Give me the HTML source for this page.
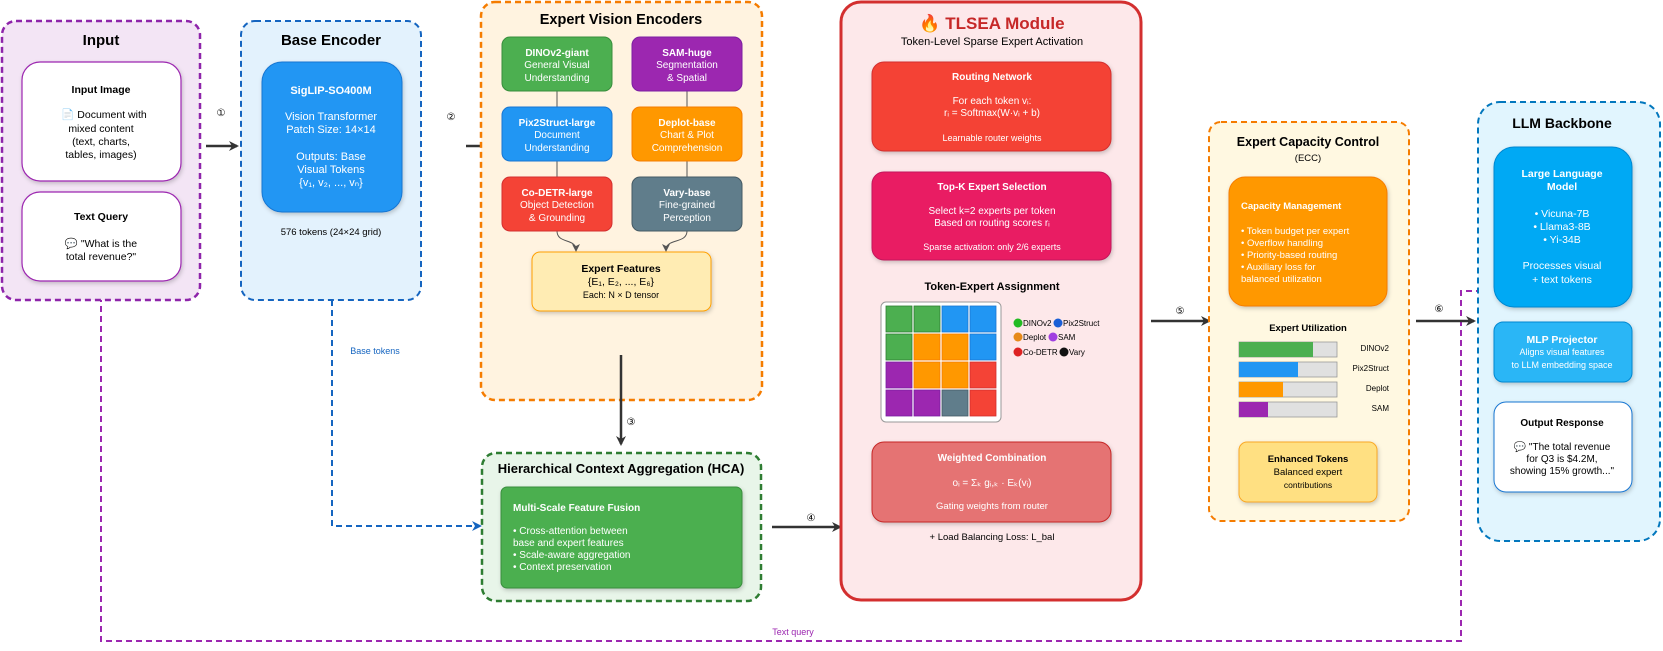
<!DOCTYPE html>
<html><head><meta charset="utf-8"><style>
html,body{margin:0;padding:0;background:#fff;}
svg{display:block;font-family:"Liberation Sans",Arial,sans-serif;}
.b{font-weight:bold;}
</style></head><body>
<svg width="1663" height="651" viewBox="0 0 1663 651" xmlns="http://www.w3.org/2000/svg">
<defs>
<marker id="ah" markerWidth="10" markerHeight="10" refX="8" refY="5" orient="auto" markerUnits="userSpaceOnUse"><path d="M0,0 L10,5 L0,10 L3,5 Z" fill="#333"/></marker>
<marker id="ahs" markerWidth="8" markerHeight="8" refX="6" refY="4" orient="auto" markerUnits="userSpaceOnUse"><path d="M0,0 L8,4 L0,8 L2,4 Z" fill="#555"/></marker>
<marker id="ahb" markerWidth="10" markerHeight="10" refX="8" refY="5" orient="auto" markerUnits="userSpaceOnUse"><path d="M0,0 L10,5 L0,10 L3,5 Z" fill="#1565c0"/></marker>
<marker id="ahp" markerWidth="10" markerHeight="10" refX="8" refY="5" orient="auto" markerUnits="userSpaceOnUse"><path d="M0,0 L10,5 L0,10 L3,5 Z" fill="#9c27b0"/></marker>
<filter id="sh" x="-10%" y="-10%" width="130%" height="130%"><feDropShadow dx="1" dy="2" stdDeviation="2" flood-opacity="0.2"/></filter>
</defs>

<!-- text query dashed path -->
<path d="M101,286 L101,641 L1461,641 L1461,291 L1491,291" fill="none" stroke="#9c27b0" stroke-width="2" stroke-dasharray="6 4" marker-end="url(#ahp)"/>
<text x="793" y="635" font-size="9" fill="#9c27b0" text-anchor="middle">Text query</text>

<!-- base tokens dashed -->
<path d="M332,300 L332,526 L480,526" fill="none" stroke="#1565c0" stroke-width="2" stroke-dasharray="6 4" marker-end="url(#ahb)"/>
<text x="375" y="354" font-size="9" fill="#1565c0" text-anchor="middle">Base tokens</text>

<!-- Input -->
<rect x="2" y="21" width="198" height="279" rx="14" fill="#f3e5f5" stroke="#8e24aa" stroke-width="2.5" stroke-dasharray="6 4"/>
<text x="101" y="45" font-size="15" class="b" text-anchor="middle">Input</text>
<rect x="22" y="62" width="159" height="119" rx="18" fill="#fff" stroke="#9c27b0" stroke-width="1.2" filter="url(#sh)"/>
<text x="101" y="93" font-size="10.5" class="b" text-anchor="middle">Input Image</text>
<g font-size="10.5" text-anchor="middle"><text x="104" y="118">📄 Document with</text><text x="101" y="132">mixed content</text><text x="101" y="145">(text, charts,</text><text x="101" y="158">tables, images)</text></g>
<rect x="22" y="192" width="159" height="89" rx="18" fill="#fff" stroke="#9c27b0" stroke-width="1.2" filter="url(#sh)"/>
<text x="101" y="220" font-size="10.5" class="b" text-anchor="middle">Text Query</text>
<g font-size="10.5" text-anchor="middle"><text x="101" y="247">💬 "What is the</text><text x="101" y="260">total revenue?"</text></g>

<!-- arrow 1 -->
<line x1="206" y1="146" x2="237" y2="146" stroke="#333" stroke-width="2.5" marker-end="url(#ah)"/>
<text x="221" y="116" font-size="10" text-anchor="middle">①</text>

<!-- Base Encoder -->
<rect x="241" y="21" width="180" height="279" rx="14" fill="#e3f2fd" stroke="#1565c0" stroke-width="2" stroke-dasharray="6 4"/>
<text x="331" y="45" font-size="15" class="b" text-anchor="middle">Base Encoder</text>
<rect x="262" y="62" width="140" height="150" rx="20" fill="#2196f3" stroke="#1976d2" stroke-width="1" filter="url(#sh)"/>
<g fill="#fff" font-size="11" text-anchor="middle"><text x="331" y="94" class="b">SigLIP-SO400M</text><text x="331" y="120">Vision Transformer</text><text x="331" y="133">Patch Size: 14×14</text><text x="331" y="160">Outputs: Base</text><text x="331" y="173">Visual Tokens</text><text x="331" y="186">{v₁, v₂, ..., vₙ}</text></g>
<text x="331" y="235" font-size="9.5" text-anchor="middle">576 tokens (24×24 grid)</text>

<!-- arrow 2 -->
<line x1="466" y1="146" x2="496" y2="146" stroke="#333" stroke-width="2.5" marker-end="url(#ah)"/>
<text x="451" y="120" font-size="10" text-anchor="middle">②</text>

<!-- Expert Vision Encoders -->
<rect x="481" y="2" width="281" height="398" rx="14" fill="#fff3e0" stroke="#f57c00" stroke-width="2.5" stroke-dasharray="6 4"/>
<text x="621" y="24" font-size="14.5" class="b" text-anchor="middle">Expert Vision Encoders</text>
<line x1="557" y1="91" x2="557" y2="107" stroke="#555"/><line x1="687" y1="91" x2="687" y2="107" stroke="#555"/>
<line x1="557" y1="161" x2="557" y2="177" stroke="#555"/><line x1="687" y1="161" x2="687" y2="177" stroke="#555"/>
<path d="M557,231 C557,244 576,238 576,250" fill="none" stroke="#555" marker-end="url(#ahs)"/>
<path d="M687,231 C687,244 666,238 666,250" fill="none" stroke="#555" marker-end="url(#ahs)"/>
<g font-size="10" text-anchor="middle" fill="#fff">
<rect x="502" y="37" width="110" height="54" rx="8" fill="#4caf50" stroke="#388e3c"/><text x="557" y="56" class="b">DINOv2-giant</text><text x="557" y="68">General Visual</text><text x="557" y="81">Understanding</text>
<rect x="632" y="37" width="110" height="54" rx="8" fill="#9c27b0" stroke="#7b1fa2"/><text x="687" y="56" class="b">SAM-huge</text><text x="687" y="68">Segmentation</text><text x="687" y="81">&amp; Spatial</text>
<rect x="502" y="107" width="110" height="54" rx="8" fill="#2196f3" stroke="#1976d2"/><text x="557" y="126" class="b">Pix2Struct-large</text><text x="557" y="138">Document</text><text x="557" y="151">Understanding</text>
<rect x="632" y="107" width="110" height="54" rx="8" fill="#ff9800" stroke="#f57c00"/><text x="687" y="126" class="b">Deplot-base</text><text x="687" y="138">Chart &amp; Plot</text><text x="687" y="151">Comprehension</text>
<rect x="502" y="177" width="110" height="54" rx="8" fill="#f44336" stroke="#d32f2f"/><text x="557" y="196" class="b">Co-DETR-large</text><text x="557" y="208">Object Detection</text><text x="557" y="221">&amp; Grounding</text>
<rect x="632" y="177" width="110" height="54" rx="8" fill="#607d8b" stroke="#455a64"/><text x="687" y="196" class="b">Vary-base</text><text x="687" y="208">Fine-grained</text><text x="687" y="221">Perception</text>
</g>
<rect x="532" y="252" width="179" height="59" rx="8" fill="#ffecb3" stroke="#ffa000" filter="url(#sh)"/>
<g font-size="10.5" text-anchor="middle"><text x="621" y="272" class="b">Expert Features</text><text x="621" y="285">{E₁, E₂, ..., E₆}</text><text x="621" y="298" font-size="9">Each: N × D tensor</text></g>

<!-- arrow 3 -->
<line x1="621" y1="355" x2="621" y2="444" stroke="#333" stroke-width="2.5" marker-end="url(#ah)"/>
<text x="631" y="425" font-size="10" text-anchor="middle">③</text>

<!-- HCA -->
<rect x="482" y="453" width="279" height="148" rx="14" fill="#e8f5e9" stroke="#2e7d32" stroke-width="2.5" stroke-dasharray="6 4"/>
<text x="621" y="473" font-size="13" class="b" text-anchor="middle">Hierarchical Context Aggregation (HCA)</text>
<rect x="501" y="487" width="241" height="101" rx="6" fill="#4caf50" stroke="#388e3c" filter="url(#sh)"/>
<g fill="#fff" font-size="10"><text x="513" y="511" class="b">Multi-Scale Feature Fusion</text><text x="513" y="534">• Cross-attention between</text><text x="513" y="546">base and expert features</text><text x="513" y="558">• Scale-aware aggregation</text><text x="513" y="570">• Context preservation</text></g>

<!-- arrow 4 -->
<line x1="772" y1="527" x2="840" y2="527" stroke="#333" stroke-width="2.5" marker-end="url(#ah)"/>
<text x="811" y="521" font-size="10" text-anchor="middle">④</text>

<!-- TLSEA -->
<rect x="841" y="2" width="300" height="598" rx="20" fill="#fde8ea" stroke="#d32f2f" stroke-width="3"/>
<text x="992" y="29" font-size="17" class="b" fill="#c62828" text-anchor="middle">🔥 TLSEA Module</text>
<text x="992" y="45" font-size="11" text-anchor="middle">Token-Level Sparse Expert Activation</text>
<g fill="#fff" text-anchor="middle" font-size="10">
<rect x="872" y="62" width="239" height="89" rx="12" fill="#f44336" stroke="#d32f2f" filter="url(#sh)"/>
<text x="992" y="80" class="b">Routing Network</text><text x="992" y="104">For each token vᵢ:</text><text x="992" y="116">rᵢ = Softmax(W·vᵢ + b)</text><text x="992" y="141" font-size="9">Learnable router weights</text>
<rect x="872" y="172" width="239" height="88" rx="12" fill="#e91e63" stroke="#c2185b" filter="url(#sh)"/>
<text x="992" y="190" class="b">Top-K Expert Selection</text><text x="992" y="214">Select k=2 experts per token</text><text x="992" y="226">Based on routing scores rᵢ</text><text x="992" y="250" font-size="9">Sparse activation: only 2/6 experts</text>
<rect x="872" y="442" width="239" height="80" rx="12" fill="#e57373" stroke="#c62828" filter="url(#sh)"/>
<text x="992" y="461" class="b">Weighted Combination</text><text x="992" y="486">oᵢ = Σₖ gᵢ,ₖ · Eₖ(vᵢ)</text><text x="992" y="509" font-size="9.5">Gating weights from router</text>
</g>
<text x="992" y="290" font-size="11" class="b" text-anchor="middle">Token-Expert Assignment</text>
<rect x="881" y="302" width="120" height="120" rx="5" fill="#fff" stroke="#999"/>
<g stroke-width="0.8">
<rect x="886" y="306" width="26" height="26" fill="#4caf50" stroke="#2e7d32"/><rect x="914" y="306" width="26" height="26" fill="#4caf50" stroke="#2e7d32"/><rect x="942" y="306" width="26" height="26" fill="#2196f3" stroke="#1976d2"/><rect x="970" y="306" width="26" height="26" fill="#2196f3" stroke="#1976d2"/>
<rect x="886" y="334" width="26" height="26" fill="#4caf50" stroke="#2e7d32"/><rect x="914" y="334" width="26" height="26" fill="#ff9800" stroke="#f57c00"/><rect x="942" y="334" width="26" height="26" fill="#ff9800" stroke="#f57c00"/><rect x="970" y="334" width="26" height="26" fill="#2196f3" stroke="#1976d2"/>
<rect x="886" y="362" width="26" height="26" fill="#9c27b0" stroke="#7b1fa2"/><rect x="914" y="362" width="26" height="26" fill="#ff9800" stroke="#f57c00"/><rect x="942" y="362" width="26" height="26" fill="#ff9800" stroke="#f57c00"/><rect x="970" y="362" width="26" height="26" fill="#f44336" stroke="#d32f2f"/>
<rect x="886" y="390" width="26" height="26" fill="#9c27b0" stroke="#7b1fa2"/><rect x="914" y="390" width="26" height="26" fill="#9c27b0" stroke="#7b1fa2"/><rect x="942" y="390" width="26" height="26" fill="#607d8b" stroke="#455a64"/><rect x="970" y="390" width="26" height="26" fill="#f44336" stroke="#d32f2f"/>
</g>
<g font-size="8">
<circle cx="1018" cy="323" r="4.5" fill="#22bb22"/><text x="1023" y="326">DINOv2</text><circle cx="1058" cy="323" r="4.5" fill="#1a5fd6"/><text x="1063" y="326">Pix2Struct</text>
<circle cx="1018" cy="337" r="4.5" fill="#e68a1a"/><text x="1023" y="340">Deplot</text><circle cx="1053" cy="337" r="4.5" fill="#a040e0"/><text x="1058" y="340">SAM</text>
<circle cx="1018" cy="352" r="4.5" fill="#dd2222"/><text x="1023" y="355">Co-DETR</text><circle cx="1064" cy="352" r="4.5" fill="#111"/><text x="1069" y="355">Vary</text>
</g>
<text x="992" y="540" font-size="9.5" text-anchor="middle">+ Load Balancing Loss: L_bal</text>

<!-- arrow 5 -->
<line x1="1151" y1="321" x2="1209" y2="321" stroke="#333" stroke-width="2.5" marker-end="url(#ah)"/>
<text x="1180" y="314" font-size="10" text-anchor="middle">⑤</text>

<!-- ECC -->
<rect x="1209" y="122" width="200" height="399" rx="12" fill="#fff8e1" stroke="#f57c00" stroke-width="2" stroke-dasharray="6 4"/>
<text x="1308" y="146" font-size="12.5" class="b" text-anchor="middle">Expert Capacity Control</text>
<text x="1308" y="161" font-size="9.5" text-anchor="middle">(ECC)</text>
<rect x="1229" y="177" width="158" height="129" rx="16" fill="#ff9800" stroke="#f57c00" filter="url(#sh)"/>
<g fill="#fff" font-size="9.5"><text x="1241" y="209" class="b">Capacity Management</text><text x="1241" y="234">• Token budget per expert</text><text x="1241" y="246">• Overflow handling</text><text x="1241" y="258">• Priority-based routing</text><text x="1241" y="270">• Auxiliary loss for</text><text x="1241" y="282">balanced utilization</text></g>
<text x="1308" y="331" font-size="9.5" class="b" text-anchor="middle">Expert Utilization</text>
<g stroke="#999" stroke-width="0.8">
<rect x="1239" y="342" width="98" height="15" fill="#e0e0e0"/><rect x="1239" y="342" width="74" height="15" fill="#4caf50" stroke="none"/>
<rect x="1239" y="362" width="98" height="15" fill="#e0e0e0"/><rect x="1239" y="362" width="59" height="15" fill="#2196f3" stroke="none"/>
<rect x="1239" y="382" width="98" height="15" fill="#e0e0e0"/><rect x="1239" y="382" width="44" height="15" fill="#ff9800" stroke="none"/>
<rect x="1239" y="402" width="98" height="15" fill="#e0e0e0"/><rect x="1239" y="402" width="29" height="15" fill="#9c27b0" stroke="none"/>
</g>
<g font-size="8" text-anchor="end"><text x="1389" y="351">DINOv2</text><text x="1389" y="371">Pix2Struct</text><text x="1389" y="391">Deplot</text><text x="1389" y="411">SAM</text></g>
<rect x="1239" y="442" width="138" height="60" rx="8" fill="#ffe082" stroke="#f9a825" filter="url(#sh)"/>
<g font-size="9.5" text-anchor="middle"><text x="1308" y="462" class="b">Enhanced Tokens</text><text x="1308" y="475">Balanced expert</text><text x="1308" y="488" font-size="8.5">contributions</text></g>

<!-- arrow 6 -->
<line x1="1416" y1="321" x2="1474" y2="321" stroke="#333" stroke-width="2.5" marker-end="url(#ah)"/>
<text x="1439" y="312" font-size="10" text-anchor="middle">⑥</text>

<!-- LLM Backbone -->
<rect x="1478" y="102" width="182" height="439" rx="22" fill="#e1f5fe" stroke="#0277bd" stroke-width="2" stroke-dasharray="6 4"/>
<text x="1562" y="128" font-size="14" class="b" text-anchor="middle">LLM Backbone</text>
<g text-anchor="middle" font-size="10.5" fill="#fff">
<rect x="1494" y="147" width="138" height="160" rx="20" fill="#03a9f4" stroke="#0288d1" filter="url(#sh)"/>
<text x="1562" y="177" class="b">Large Language</text><text x="1562" y="190" class="b">Model</text><text x="1562" y="217">• Vicuna-7B</text><text x="1562" y="230">• Llama3-8B</text><text x="1562" y="243">• Yi-34B</text><text x="1562" y="269">Processes visual</text><text x="1562" y="283">+ text tokens</text>
<rect x="1494" y="322" width="138" height="60" rx="9" fill="#29b6f6" stroke="#0288d1" filter="url(#sh)"/>
<text x="1562" y="343" class="b">MLP Projector</text><text x="1562" y="355" font-size="9">Aligns visual features</text><text x="1562" y="368" font-size="9">to LLM embedding space</text>
</g>
<rect x="1494" y="402" width="138" height="90" rx="12" fill="#fff" stroke="#1976d2" filter="url(#sh)"/>
<g text-anchor="middle" font-size="10"><text x="1562" y="426" class="b">Output Response</text><text x="1562" y="450">💬 "The total revenue</text><text x="1562" y="462">for Q3 is $4.2M,</text><text x="1562" y="474">showing 15% growth..."</text></g>
</svg>
</body></html>
